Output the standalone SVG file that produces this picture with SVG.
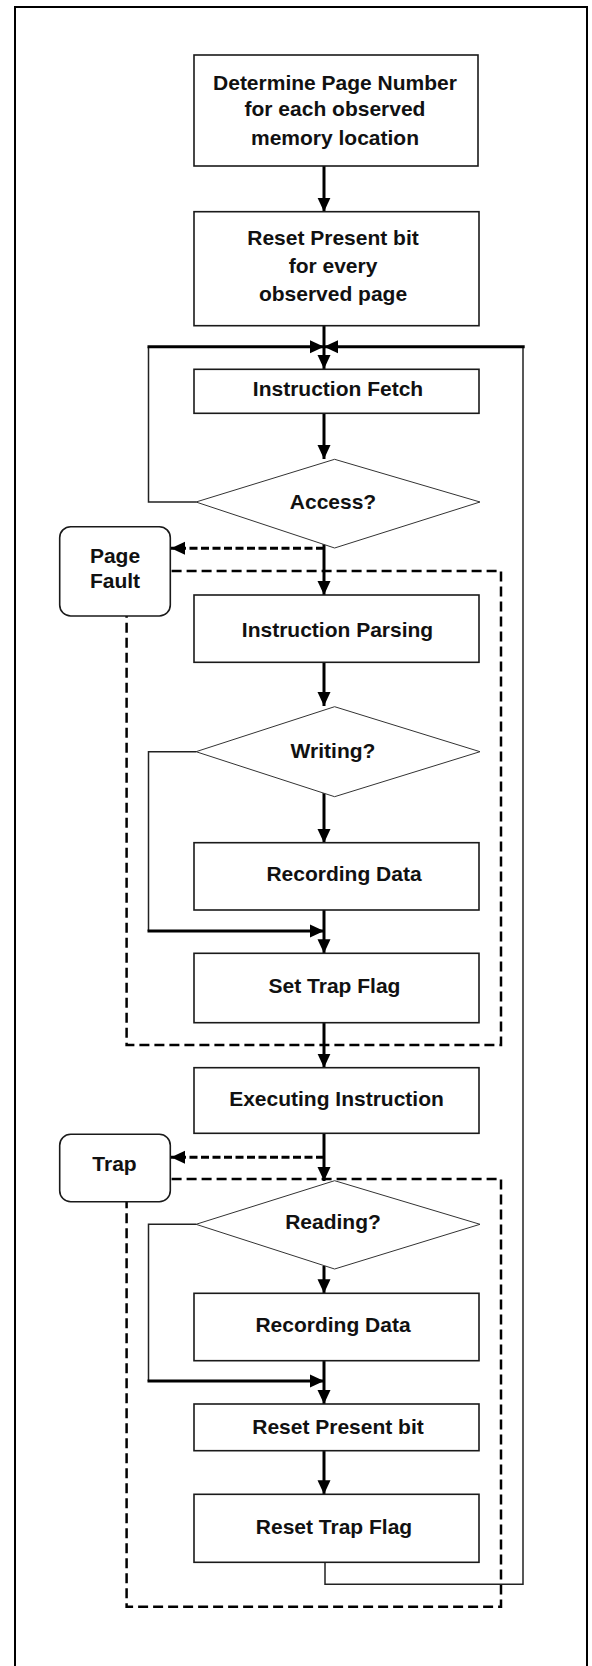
<svg xmlns="http://www.w3.org/2000/svg" width="592" height="1666" viewBox="0 0 592 1666">
<style>
.box{fill:#fff;stroke:#1a1a1a;stroke-width:1.6}
.dia{fill:#fff;stroke:#333;stroke-width:1}
.rnd{fill:#fff;stroke:#1a1a1a;stroke-width:1.6}
.t{font-family:"Liberation Sans",Arial,sans-serif;font-weight:bold;font-size:21px;fill:#111;text-anchor:middle}
.c{fill:none;stroke:#000;stroke-width:3}
.thin{fill:none;stroke:#222;stroke-width:1.5}
.dc{fill:none;stroke:#000;stroke-width:3;stroke-dasharray:8 3.5}
.grp{fill:none;stroke:#000;stroke-width:2.5;stroke-dasharray:10 5}
</style>
<defs>
<marker id="ah" markerUnits="userSpaceOnUse" markerWidth="14" markerHeight="14" refX="14" refY="7" orient="auto">
<path d="M0,0.5 L14,7 L0,13.5 z" fill="#000"/>
</marker>
</defs>
<rect x="0" y="0" width="592" height="1666" fill="#fff"/>
<rect id="frame" x="15" y="7" width="572" height="1700" fill="none" stroke="#000" stroke-width="2"/>

<g id="groups">
<rect id="pf-region" class="grp" x="126.6" y="571" width="374.4" height="474"/>
<rect id="trap-region" class="grp" x="126.6" y="1179" width="374.4" height="427.7"/>
</g>

<g id="connectors">
<path class="c" d="M324,166 V211.7" marker-end="url(#ah)"/>
<path class="c" d="M324,326 V369" marker-end="url(#ah)"/>
<path class="thin" d="M196,502 H148.5 V346.7"/>
<path class="c" d="M147.5,346.7 H324" marker-end="url(#ah)"/>
<path class="thin" d="M325,1562 V1584.3 H523 V346.7"/>
<path class="c" d="M524.7,346.7 H324" marker-end="url(#ah)"/>
<path class="c" d="M324,413 V459" marker-end="url(#ah)"/>
<path class="c" d="M324,544 V595" marker-end="url(#ah)"/>
<path class="dc" d="M324,548.3 H171" marker-end="url(#ah)"/>
<path class="c" d="M324,662 V706" marker-end="url(#ah)"/>
<path class="c" d="M324,793 V843" marker-end="url(#ah)"/>
<path class="thin" d="M196,751.7 H148.5 V931"/>
<path class="c" d="M147.5,931 H324" marker-end="url(#ah)"/>
<path class="c" d="M324,910 V953.3" marker-end="url(#ah)"/>
<path class="c" d="M324,1023 V1067.7" marker-end="url(#ah)"/>
<path class="c" d="M324,1133 V1181" marker-end="url(#ah)"/>
<path class="dc" d="M324,1157.3 H171" marker-end="url(#ah)"/>
<path class="c" d="M324,1266 V1293.3" marker-end="url(#ah)"/>
<path class="thin" d="M196,1224.3 H148.5 V1381"/>
<path class="c" d="M147.5,1381 H324" marker-end="url(#ah)"/>
<path class="c" d="M324,1361 V1404" marker-end="url(#ah)"/>
<path class="c" d="M324,1451 V1494.3" marker-end="url(#ah)"/>
</g>

<g id="n-determine">
<rect class="box" x="194" y="55" width="284" height="111"/>
<text class="t" x="335" y="89.5">Determine Page Number</text>
<text class="t" x="335" y="115.5">for each observed</text>
<text class="t" x="335" y="144.5">memory location</text>
</g>
<g id="n-reset-present-all">
<rect class="box" x="194" y="211.7" width="285" height="114"/>
<text class="t" x="333" y="244.5">Reset Present bit</text>
<text class="t" x="333" y="272.5">for every</text>
<text class="t" x="333" y="300.5">observed page</text>
</g>
<g id="n-fetch">
<rect class="box" x="194" y="369.3" width="285" height="44"/>
<text class="t" x="338" y="395.5">Instruction Fetch</text>
</g>
<g id="n-access">
<polygon class="dia" points="334.6,459.3 480,502 334.6,548 196,502"/>
<text class="t" x="333" y="509">Access?</text>
</g>
<g id="n-pagefault">
<rect class="rnd" x="59.7" y="526.7" width="110.6" height="89.3" rx="11" ry="11"/>
<text class="t" x="115" y="562.5">Page</text>
<text class="t" x="115" y="587.5">Fault</text>
</g>
<g id="n-parsing">
<rect class="box" x="194" y="595" width="285" height="67.3"/>
<text class="t" x="337.5" y="636.5">Instruction Parsing</text>
</g>
<g id="n-writing">
<polygon class="dia" points="334.6,706.7 480,751.7 334.6,796.7 196,751.7"/>
<text class="t" x="333" y="757.5">Writing?</text>
</g>
<g id="n-record1">
<rect class="box" x="194" y="842.7" width="285" height="67.3"/>
<text class="t" x="344" y="880.5">Recording Data</text>
</g>
<g id="n-settrap">
<rect class="box" x="194" y="953.3" width="285" height="69.4"/>
<text class="t" x="334.5" y="992.5">Set Trap Flag</text>
</g>
<g id="n-exec">
<rect class="box" x="194" y="1067.7" width="285" height="65.6"/>
<text class="t" x="336.5" y="1105.5">Executing Instruction</text>
</g>
<g id="n-trap">
<rect class="rnd" x="59.7" y="1134.3" width="110.6" height="67.4" rx="11" ry="11"/>
<text class="t" x="114.5" y="1170.5">Trap</text>
</g>
<g id="n-reading">
<polygon class="dia" points="334.6,1180.7 480,1224.3 334.6,1269 196,1224.3"/>
<text class="t" x="333" y="1229">Reading?</text>
</g>
<g id="n-record2">
<rect class="box" x="194" y="1293.3" width="285" height="67.4"/>
<text class="t" x="333" y="1331.5">Recording Data</text>
</g>
<g id="n-resetpresent">
<rect class="box" x="194" y="1404" width="285" height="46.7"/>
<text class="t" x="338" y="1434">Reset Present bit</text>
</g>
<g id="n-resettrap">
<rect class="box" x="194" y="1494.3" width="285" height="68"/>
<text class="t" x="334" y="1534">Reset Trap Flag</text>
</g>
</svg>
